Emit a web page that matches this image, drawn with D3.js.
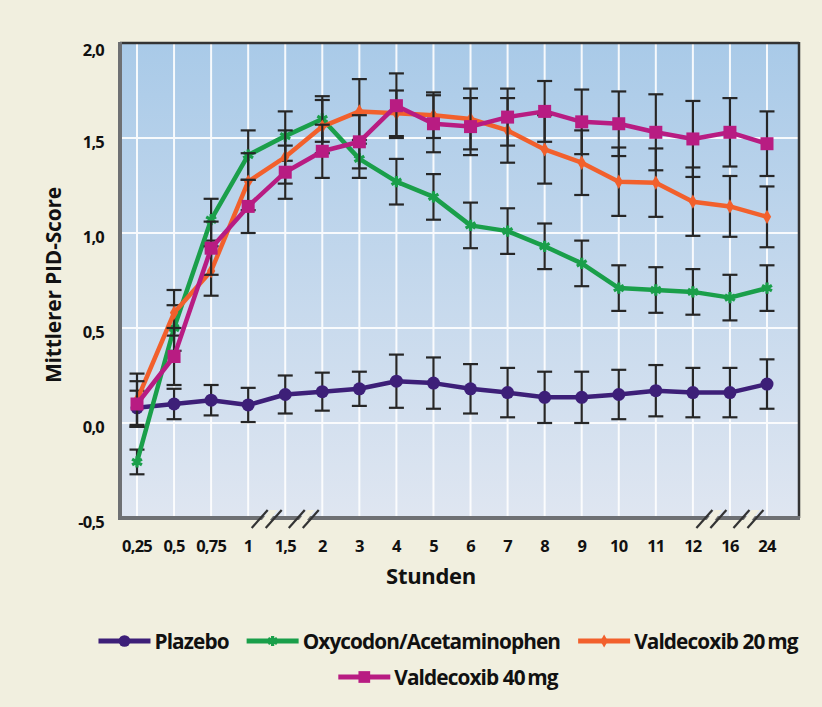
<!DOCTYPE html>
<html><head><meta charset="utf-8">
<script src="https://cdn.jsdelivr.net/npm/d3@7"></script>
<style>
html,body{margin:0;padding:0;background:#f1efdf;}
svg{display:block;}
text{font-family:"Open Sans",sans-serif;font-weight:700;fill:#111;}
</style></head><body>
<svg id="c" width="822" height="707"></svg>
<script>
const hours = ["0,25","0,5","0,75","1","1,5","2","3","4","5","6","7","8","9","10","11","12","16","24"];
const yTicks = [-0.5, 0, 0.5, 1.0, 1.5, 2.0];
const yTickLabels = ["-0,5","0,0","0,5","1,0","1,5","2,0"];
const breakPairs = [["1","1,5"],["1,5","2"],["12","16"],["16","24"]];

const plazebo    = [0.08,0.10,0.12,0.095,0.15,0.165,0.18,0.22,0.21,0.18,0.16,0.135,0.135,0.15,0.17,0.16,0.16,0.205];
const plazeboErr = [0.09,0.08,0.08,0.09,0.10,0.10,0.09,0.14,0.135,0.13,0.13,0.135,0.135,0.13,0.135,0.13,0.13,0.13];
const oxy        = [-0.205,0.50,1.07,1.41,1.51,1.60,1.39,1.27,1.19,1.04,1.01,0.93,0.84,0.71,0.70,0.69,0.66,0.71];
const oxyErr     = [0.065,0.12,0.11,0.13,0.13,0.12,0.10,0.12,0.12,0.12,0.12,0.12,0.12,0.12,0.12,0.12,0.12,0.12];
const v20        = [0.12,0.58,0.80,1.27,1.40,1.56,1.64,1.63,1.62,1.60,1.54,1.44,1.37,1.27,1.265,1.165,1.14,1.085];
const v20Err     = [0.14,0.12,0.13,0.15,0.14,0.14,0.17,0.12,0.12,0.16,0.17,0.18,0.17,0.18,0.18,0.18,0.16,0.16];
const v40        = [0.10,0.35,0.92,1.14,1.32,1.43,1.48,1.67,1.575,1.56,1.61,1.64,1.585,1.575,1.53,1.495,1.53,1.47];
const v40Err     = [0.12,0.15,0.14,0.14,0.14,0.14,0.14,0.17,0.15,0.15,0.15,0.16,0.17,0.17,0.20,0.20,0.18,0.17];

const seriesNames = ["Plazebo","Oxycodon/Acetaminophen","Valdecoxib 20\u2009mg","Valdecoxib 40\u2009mg"];

const series = [
  {name:seriesNames[0], vals:plazebo, err:plazeboErr, color:"#3d1f78", sym:"circle"},
  {name:seriesNames[1], vals:oxy, err:oxyErr, color:"#1a9f4a", sym:"asterisk"},
  {name:seriesNames[2], vals:v20, err:v20Err, color:"#f2602c", sym:"diamond"},
  {name:seriesNames[3], vals:v40, err:v40Err, color:"#b81c82", sym:"square"}
];

const svg = d3.select("#c");
const P = {l:120, t:43, r:799, b:518};
const x = d3.scalePoint(hours, [137, 767]);
const y = d3.scaleLinear([-0.5, 2.0], [P.b, P.t]);

const defs = svg.append("defs");
const g = defs.append("linearGradient").attr("id","bg").attr("x1",0).attr("y1",0).attr("x2",0).attr("y2",1);
g.append("stop").attr("offset","0%").attr("stop-color","#a9cae8");
g.append("stop").attr("offset","100%").attr("stop-color","#dfe6f1");

svg.append("rect").attr("x",P.l).attr("y",P.t).attr("width",P.r-P.l).attr("height",P.b-P.t).attr("fill","url(#bg)");

const grid = svg.append("g").attr("stroke","#fff").attr("stroke-width",2).attr("opacity",0.9);
grid.selectAll("line.h").data(yTicks.slice(1,-1)).join("line")
  .attr("x1",P.l).attr("x2",P.r).attr("y1",d=>y(d)).attr("y2",d=>y(d));
grid.selectAll("line.v").data(hours).join("line")
  .attr("x1",d=>x(d)).attr("x2",d=>x(d)).attr("y1",P.t).attr("y2",P.b);

svg.append("line").attr("x1",P.l).attr("x2",P.r).attr("y1",P.t).attr("y2",P.t).attr("stroke","#333").attr("stroke-width",2.5);
svg.append("line").attr("x1",P.r).attr("x2",P.r).attr("y1",P.t-1).attr("y2",P.b).attr("stroke","#333").attr("stroke-width",2.5);
svg.append("line").attr("x1",P.l).attr("x2",P.l).attr("y1",P.t-1).attr("y2",P.b+2).attr("stroke","#6e7073").attr("stroke-width",4);
svg.append("line").attr("x1",P.l-2).attr("x2",P.r+1).attr("y1",P.b).attr("y2",P.b).attr("stroke","#6e7073").attr("stroke-width",4);

const br = svg.append("g");
breakPairs.forEach(([a,b])=>{
  const cx = (x(a)+x(b))/2, cy = P.b+1;
  br.append("path").attr("d",`M${cx-11},${cy+9} L${cx-3},${cy+9} L${cx+11},${cy-9} L${cx+3},${cy-9} Z`).attr("fill","#f1efdf");
  [-7,7].forEach(o=>{
    br.append("line").attr("x1",cx+o-8).attr("y1",cy+9).attr("x2",cx+o+8).attr("y2",cy-9)
      .attr("stroke","#333").attr("stroke-width",2.2);
  });
});

svg.append("g").selectAll("text").data(yTicks).join("text")
  .attr("x",104).attr("y",(d,i)=>y(d)+ (d===2?6:3)).attr("text-anchor","end").attr("dominant-baseline","central")
  .attr("font-size",16.5).attr("letter-spacing",-0.8).text((d,i)=>yTickLabels[i]);

svg.append("g").selectAll("text").data(hours).join("text")
  .attr("x",d=>x(d)).attr("y",545).attr("text-anchor","middle").attr("dominant-baseline","central")
  .attr("font-size",16.5).attr("letter-spacing",-0.8).text(d=>d);

svg.append("text").attr("x",431).attr("y",575).attr("text-anchor","middle").attr("dominant-baseline","central")
  .attr("font-size",22).attr("letter-spacing",-0.3).text("Stunden");
svg.append("text").attr("transform","translate(53,285) rotate(-90)").attr("text-anchor","middle").attr("dominant-baseline","central")
  .attr("font-size",21).attr("letter-spacing",-0.2).text("Mittlerer PID-Score");

function marker(sel, s, scale){
  const k = scale||1;
  if(s.sym==="circle"){
    sel.append("circle").attr("r",6.5*k).attr("fill",s.color);
  } else if(s.sym==="square"){
    sel.append("rect").attr("x",-6.5*k).attr("y",-6.5*k).attr("width",13*k).attr("height",13*k).attr("fill",s.color);
  } else if(s.sym==="diamond"){
    sel.append("path").attr("d",d3.symbol(d3.symbolDiamond, 60*k*k)()).attr("fill",s.color);
  } else {
    sel.append("path").attr("d",d3.symbol(d3.symbolAsterisk, 90*k*k)()).attr("fill","none").attr("stroke",s.color).attr("stroke-width",3.2);
  }
}

const line = d3.line().x((d,i)=>x(hours[i])).y(d=>y(d));
series.forEach(s=>{
  const gs = svg.append("g");
  const eb = gs.append("g").attr("stroke","#262626").attr("stroke-width",2.2);
  s.vals.forEach((v,i)=>{
    const cx = x(hours[i]), y1 = y(v+s.err[i]), y2 = y(v-s.err[i]);
    eb.append("line").attr("x1",cx).attr("x2",cx).attr("y1",y1).attr("y2",y2);
    eb.append("line").attr("x1",cx-7.5).attr("x2",cx+7.5).attr("y1",y1).attr("y2",y1);
    eb.append("line").attr("x1",cx-7.5).attr("x2",cx+7.5).attr("y1",y2).attr("y2",y2);
  });
  gs.append("path").attr("d",line(s.vals)).attr("fill","none").attr("stroke",s.color).attr("stroke-width",4.5).attr("stroke-linejoin","round");
  s.vals.forEach((v,i)=>{
    const m = gs.append("g").attr("transform",`translate(${x(hours[i])},${y(v)})`);
    marker(m, s);
  });
});

const rows = [[0,1,2],[3]];
const rowY = [641, 677];
const symW = 52, gapT = 4, gapItem = 18, cxLeg = 448;
rows.forEach((r,ri)=>{
  const lg = svg.append("g");
  const items = r.map(idx=>{
    const s = series[idx];
    const it = lg.append("g");
    it.append("line").attr("x1",0).attr("x2",symW).attr("y1",0).attr("y2",0).attr("stroke",s.color).attr("stroke-width",5);
    const m = it.append("g").attr("transform",`translate(${symW/2},0)`);
    marker(m, s, 0.9);
    const t = it.append("text").attr("x",symW+gapT).attr("y",0).attr("dominant-baseline","central")
      .attr("font-size",20.8).attr("letter-spacing",-0.9).text(s.name);
    const w = symW+gapT+t.node().getComputedTextLength();
    return {it,w};
  });
  const total = d3.sum(items,d=>d.w)+gapItem*(items.length-1);
  let sx = cxLeg - total/2;
  items.forEach(d=>{ d.it.attr("transform",`translate(${sx},${rowY[ri]})`); sx += d.w+gapItem; });
});
</script>
</body></html>
